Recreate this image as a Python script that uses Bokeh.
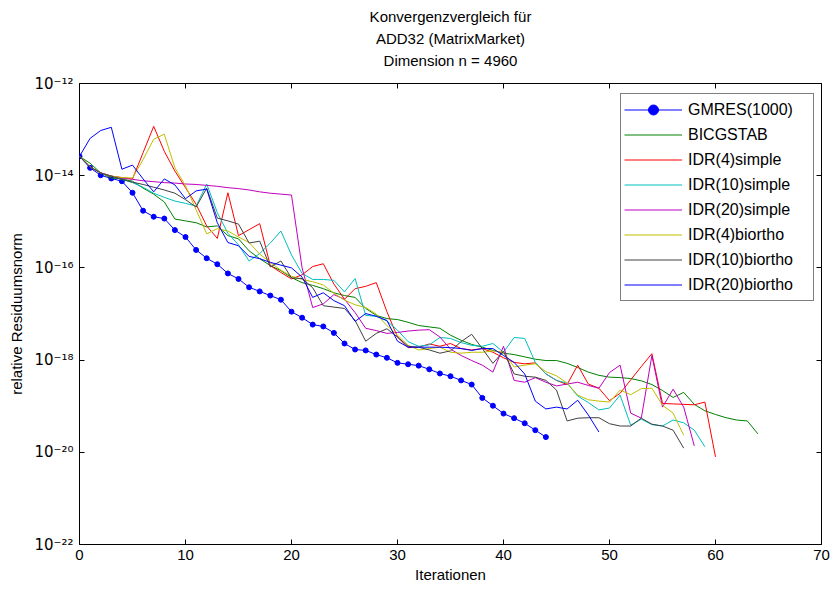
from bokeh.plotting import figure
from bokeh.models import (Range1d, FixedTicker, LogAxis, LinearAxis, CustomJSTickFormatter,
                          Legend, LegendItem, Title)
from bokeh.embed import file_html
from bokeh.resources import INLINE

title_lines = ["Konvergenzvergleich für", "ADD32 (MatrixMarket)", "Dimension n = 4960"]
x_label = "Iterationen"
y_label = "relative Residuumsnorm"
x_ticks = [0, 10, 20, 30, 40, 50, 60, 70]
y_ticks = [1e-22, 1e-20, 1e-18, 1e-16, 1e-14, 1e-12]

series_names = ["GMRES(1000)", "BICGSTAB", "IDR(4)simple", "IDR(10)simple",
                "IDR(20)simple", "IDR(4)biortho", "IDR(10)biortho", "IDR(20)biortho"]

# log10 of the relative residual norm, one value per iteration 0, 1, 2, ...
gmres_log10 = [-13.58, -13.83, -13.99, -14.06, -14.12, -14.37, -14.76, -14.89, -14.93, -15.18,
               -15.33, -15.61, -15.79, -15.92, -16.12, -16.24, -16.42, -16.51, -16.60, -16.69,
               -16.95, -17.08, -17.23, -17.27, -17.41, -17.64, -17.77, -17.79, -17.88, -17.95,
               -18.06, -18.09, -18.12, -18.20, -18.29, -18.35, -18.44, -18.53, -18.82, -18.99,
               -19.16, -19.26, -19.37, -19.52, -19.67]
bicgstab_log10 = [-13.58, -13.73, -13.94, -14.05, -14.07, -14.12, -14.27, -14.40, -14.57, -14.94,
                  -14.98, -15.02, -15.11, -15.09, -15.30, -15.37, -15.63, -15.80, -15.95, -16.06,
                  -16.21, -16.32, -16.38, -16.45, -16.54, -16.60, -16.64, -16.88, -17.03, -17.10,
                  -17.12, -17.18, -17.25, -17.28, -17.31, -17.46, -17.57, -17.66, -17.72, -17.79,
                  -17.85, -17.88, -17.93, -17.98, -18.01, -18.01, -18.07, -18.16, -18.26, -18.33,
                  -18.37, -18.38, -18.40, -18.45, -18.53, -18.66, -18.81, -18.70, -18.96, -19.10,
                  -19.18, -19.25, -19.30, -19.32, -19.60]
idr4_simple_log10 = [-13.58, -13.81, -13.94, -14.01, -14.04, -14.07, -13.50, -12.93, -13.47, -13.90,
                     -14.26, -14.62, -15.09, -15.36, -14.37, -15.30, -15.17, -15.04, -15.95, -16.10,
                     -16.24, -16.15, -15.97, -15.91, -16.35, -16.68, -16.45, -16.40, -16.32, -16.95,
                     -17.50, -17.73, -17.72, -17.65, -17.70, -17.64, -17.75, -17.78, -17.75, -17.83,
                     -17.95, -18.05, -18.08, -18.06, -18.30, -18.44, -18.53, -18.11, -18.52, -18.61,
                     -18.88, -18.72, -18.43, -18.14, -17.86, -18.94, -18.95, -18.96, -18.97, -18.91,
                     -20.10]
idr10_simple_log10 = [-13.58, -13.81, -13.94, -14.01, -14.08, -14.15, -14.25, -14.38, -14.47, -14.55,
                      -14.60, -14.66, -14.18, -14.80, -15.25, -15.50, -15.85, -15.69, -15.46, -15.20,
                      -15.72, -16.12, -16.25, -16.25, -16.27, -16.52, -16.23, -17.03, -17.05, -17.15,
                      -17.35, -17.60, -17.70, -17.67, -17.51, -17.53, -17.62, -17.68, -17.70, -17.64,
                      -17.83, -17.51, -17.53, -18.05, -18.30, -18.44, -18.50, -18.78, -18.92, -19.08,
                      -19.04, -18.76, -19.41, -19.28, -19.40, -19.43, -19.30, -19.36, -19.52, -19.88]
idr20_simple_log10 = [-13.58, -13.81, -13.94, -14.01, -14.05, -14.08, -14.11, -14.13, -14.15, -14.16,
                      -14.18, -14.19, -14.21, -14.23, -14.26, -14.28, -14.31, -14.35, -14.38, -14.40,
                      -14.42, -16.00, -16.86, -16.78, -16.58, -16.68, -16.97, -17.31, -17.36, -17.42,
                      -17.40, -17.37, -17.35, -17.34, -17.50, -17.76, -17.90, -18.01, -18.11, -18.26,
                      -17.70, -18.44, -18.48, -18.38, -18.48, -18.56, -18.52, -18.48, -18.55, -18.61,
                      -18.27, -18.11, -19.15, -19.26, -17.90, -19.02, -18.63, -19.02, -19.86]
idr4_biortho_log10 = [-13.58, -13.81, -13.94, -14.01, -14.04, -14.05, -13.65, -13.21, -13.10, -13.83,
                      -14.22, -14.74, -15.26, -15.15, -15.20, -15.33, -15.45, -15.70, -15.88, -16.05,
                      -16.18, -16.25, -16.30, -16.37, -16.55, -16.70, -16.80, -16.86, -17.00, -17.25,
                      -17.46, -17.68, -17.78, -17.75, -17.72, -17.83, -17.85, -17.83, -17.83, -17.80,
                      -17.83, -18.15, -18.11, -18.08, -18.25, -18.34, -18.50, -18.76, -18.86, -18.89,
                      -18.91, -18.65, -18.75, -18.62, -18.61, -18.98, -19.15, -19.63]
idr10_biortho_log10 = [-13.58, -13.81, -13.94, -14.01, -14.08, -14.14, -14.19, -14.25, -14.31, -14.38,
                       -14.52, -14.68, -14.27, -14.92, -14.98, -15.05, -15.46, -15.42, -15.98, -15.85,
                       -16.22, -16.23, -16.43, -16.82, -16.85, -16.88, -17.14, -17.59, -17.42, -17.32,
                       -17.50, -17.70, -17.72, -17.78, -17.85, -17.80, -17.60, -17.44, -17.75, -18.07,
                       -17.81, -18.30, -18.35, -18.37, -18.44, -18.65, -19.32, -19.26, -19.25, -19.25,
                       -19.38, -19.43, -19.43, -19.26, -19.39, -19.43, -19.52, -19.91]
idr20_biortho_log10 = [-13.58, -13.19, -13.02, -12.95, -13.86, -13.77, -14.07, -14.35, -14.07, -14.20,
                       -14.50, -14.33, -14.29, -15.02, -15.45, -15.52, -15.75, -15.80, -15.88, -15.94,
                       -16.00, -16.20, -16.64, -16.54, -16.71, -16.82, -17.16, -16.99, -17.05, -17.14,
                       -17.59, -17.72, -17.72, -17.72, -17.72, -17.73, -17.75, -17.79, -17.75, -17.75,
                       -17.90, -18.05, -18.30, -18.89, -19.06, -19.02, -19.06, -18.87, -19.19, -19.56]

series_log10 = [gmres_log10, bicgstab_log10, idr4_simple_log10, idr10_simple_log10,
                idr20_simple_log10, idr4_biortho_log10, idr10_biortho_log10, idr20_biortho_log10]
series_colors = ["#0000ff", "#008000", "#ff0000", "#00bfbf", "#bf00bf", "#bfbf00", "#404040", "#0000ff"]

FONT = "Liberation Sans"

p = figure(width=831, height=592, y_axis_type="log",
           x_range=Range1d(0, 70), y_range=Range1d(1e-22, 1e-12),
           output_backend="svg", toolbar_location=None,
           min_border_left=79, min_border_right=10, min_border_top=83, min_border_bottom=48)
p.background_fill_color = "white"
p.border_fill_color = "white"
p.outline_line_color = "black"
p.outline_line_width = 1
p.grid.visible = False
p.title.visible = False

sup_js = """
const m = {'-':'\u207b','0':'\u2070','1':'\u00b9','2':'\u00b2','3':'\u00b3','4':'\u2074',
           '5':'\u2075','6':'\u2076','7':'\u2077','8':'\u2078','9':'\u2079'};
const e = Math.round(Math.log10(tick));
return '10' + String(e).split('').map(c => m[c]).join('');
"""

xa = p.xaxis[0]
ya = p.yaxis[0]
xa.ticker = FixedTicker(ticks=x_ticks, minor_ticks=[])
ya.ticker = FixedTicker(ticks=y_ticks, minor_ticks=[])
ya.formatter = CustomJSTickFormatter(code=sup_js)
xa.axis_label = x_label
ya.axis_label = y_label
for ax in (xa, ya):
    ax.axis_line_color = None
    ax.major_tick_in = 5
    ax.major_tick_out = 0
    ax.minor_tick_line_color = None
    ax.major_tick_line_color = "black"
    ax.major_label_text_font = FONT
    ax.major_label_text_font_size = "15px"
    ax.major_label_text_color = "black"
    ax.axis_label_text_font = FONT
    ax.axis_label_text_font_size = "15px"
    ax.axis_label_text_font_style = "normal"
    ax.axis_label_text_color = "black"
ya.major_label_text_font = "DejaVu Sans"
ya.major_label_text_font_size = "15px"
xa.major_label_standoff = 5
xa.axis_label_standoff = 3
ya.major_label_standoff = 6
ya.axis_label_standoff = 6

empty = CustomJSTickFormatter(code="return ''")
ra = LogAxis(ticker=FixedTicker(ticks=y_ticks, minor_ticks=[]), formatter=empty,
             major_tick_in=5, major_tick_out=0, axis_line_color=None,
             minor_tick_line_color=None, major_label_standoff=0)
ta = LinearAxis(ticker=FixedTicker(ticks=x_ticks, minor_ticks=[]), formatter=empty,
                major_tick_in=5, major_tick_out=0, axis_line_color=None,
                minor_tick_line_color=None, major_label_standoff=0)
p.add_layout(ra, "right")
p.add_layout(ta, "above")

# small spacer between the frame and the three title lines
p.add_layout(Title(text=" ", text_font_size="1px", standoff=10), "above")
for line in reversed(title_lines):
    p.add_layout(Title(text=line, align="center", text_font=FONT, text_font_size="15px",
                       text_font_style="normal", text_color="black", standoff=3), "above")

items = []
for name, vals, col in zip(series_names, series_log10, series_colors):
    xs = list(range(len(vals)))
    ys = [10.0 ** v for v in vals]
    r = p.line(xs, ys, line_color=col, line_width=1)
    rs = [r]
    if name.startswith("GMRES"):
        m = p.scatter(xs, ys, marker="circle", size=5, fill_color=col, line_color=col)
        rs.append(m)
    items.append(LegendItem(label=name, renderers=rs))

legend = Legend(items=items, location=(541, 243), padding=3, spacing=0,
                glyph_width=58, glyph_height=25, label_height=25, label_width=122,
                label_standoff=6, label_text_font=FONT, label_text_font_size="16px",
                label_text_color="black", border_line_color="black", border_line_width=1,
                background_fill_color="white", background_fill_alpha=1.0, margin=0)
p.add_layout(legend, "center")

open("out.html", "w").write(file_html(p, INLINE))
